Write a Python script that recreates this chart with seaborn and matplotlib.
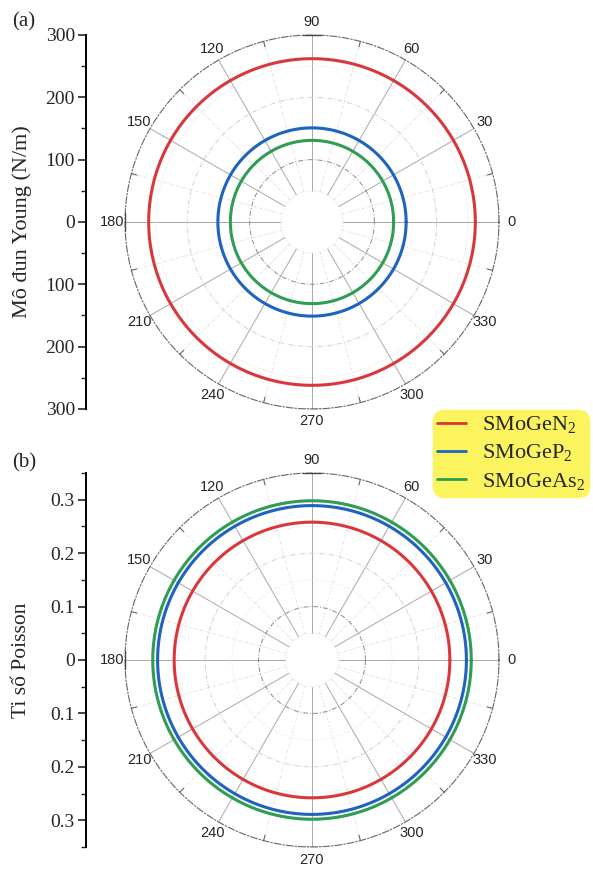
import numpy as np
import pandas as pd
import matplotlib
matplotlib.use("Agg")
import matplotlib.pyplot as plt
import seaborn as sns

# ---- data ----
materials = ["SMoGeN2", "SMoGeP2", "SMoGeAs2"]
legend_labels = [r"SMoGeN$_\mathregular{2}$", r"SMoGeP$_\mathregular{2}$", r"SMoGeAs$_\mathregular{2}$"]
young_modulus = [262, 151, 131]          # N/m, isotropic
poisson_ratio = [0.258, 0.289, 0.298]    # isotropic
angles_deg = np.arange(0, 361, 2)        # sampling of the polar direction
colors = ["#D8383C", "#1F63BF", "#2E9E55"]
angle_ticks = [0, 30, 60, 90, 120, 150, 180, 210, 240, 270, 300, 330]
young_ticks = [-300, -200, -100, 0, 100, 200, 300]
poisson_ticks = [-0.3, -0.2, -0.1, 0, 0.1, 0.2, 0.3]

sns.set_theme(style="white")
plt.rcParams["font.family"] = ["Liberation Serif", "DejaVu Serif"]
plt.rcParams["mathtext.fontset"] = "custom"
plt.rcParams["mathtext.rm"] = "Liberation Serif"

W, H = 593, 869
fig = plt.figure(figsize=(W / 100, H / 100), dpi=100)

def frac_box(left_px, top_px, w_px, h_px):
    return [left_px / W, 1 - (top_px + h_px) / H, w_px / W, h_px / H]

def build_df(values):
    rows = []
    for m, v in zip(materials, values):
        for a in angles_deg:
            rows.append({"material": m, "theta": np.deg2rad(a), "r": v})
    return pd.DataFrame(rows)

def polar_panel(cy, rmax, step, values, hole):
    R = 187
    cx = 312
    box = frac_box(cx - R, cy - R, 2 * R, 2 * R)
    ax = fig.add_axes(box, projection="polar")
    ax.set_facecolor("none")
    ax.grid(False)
    ax.set_ylim(0, rmax)
    full = np.linspace(0, 2 * np.pi, 400)
    # minor spokes
    for a in range(15, 360, 30):
        t = np.deg2rad(a)
        ax.plot([t, t], [hole, rmax], color="#dadada", lw=0.6, ls=(0, (3, 2, 1, 2)), zorder=1)
    # major spokes
    for a in range(0, 360, 30):
        t = np.deg2rad(a)
        ax.plot([t, t], [hole, rmax], color="#a8a8a8", lw=0.7, zorder=1)
    # circles
    ax.plot(full, np.full_like(full, hole), color="#dddddd", lw=0.6, ls=(0, (1, 1.5)), zorder=1)
    k = 1
    while step * k < rmax - 1e-9:
        r = step * k
        ax.plot(full, np.full_like(full, r), color="#8a8a8a" if k == 1 else "#d0d0d0",
                lw=0.7, ls=(0, (5, 2, 1, 2)), zorder=1)
        rm = r + step / 2
        if rm < rmax - 1e-9:
            ax.plot(full, np.full_like(full, rm), color="#e0e0e0", lw=0.6, ls=(0, (1, 1.5)), zorder=1)
        k += 1
    df = build_df(values)
    sns.lineplot(data=df, x="theta", y="r", hue="material", palette=colors,
                 estimator=None, sort=False, legend=False, lw=2.2, ax=ax, zorder=3)
    ax.set_xlabel("")
    ax.set_ylabel("")
    ax.set_yticks([])
    ax.set_xticks(np.deg2rad(angle_ticks))
    ax.set_xticklabels([str(a) for a in angle_ticks], fontfamily="Liberation Sans", fontsize=10.5)
    ax.tick_params(axis="x", length=0, pad=2)
    ax.spines["polar"].set_linestyle((0, (6, 2, 1, 2)))
    ax.spines["polar"].set_color("#666666")
    ax.spines["polar"].set_linewidth(0.8)
    # overlay for outer ticks and caps
    ov = fig.add_axes(box)
    ov.set_xlim(-1, 1)
    ov.set_ylim(-1, 1)
    ov.axis("off")
    ov.patch.set_alpha(0)
    for a in range(15, 360, 30):
        t = np.deg2rad(a)
        ov.plot([np.cos(t), 0.97 * np.cos(t)], [np.sin(t), 0.97 * np.sin(t)], color="#666666", lw=0.8)
    c = 9 / R
    ov.plot([1, 1], [-c, c], color="#444444", lw=1.0)
    ov.plot([-1, -1], [-c, c], color="#444444", lw=1.0)
    ov.plot([-c, c], [1, 1], color="#444444", lw=1.0)
    ov.plot([-c, c], [-1, -1], color="#444444", lw=1.0)
    return ax

def left_axis(cy, rmax, ticks, labels, minor_step, ylabel, ylabel_size, panel_label, label_y):
    R = 187
    box = frac_box(86, cy - R, 0.5, 2 * R)
    la = fig.add_axes(box)
    la.set_ylim(-rmax, rmax)
    la.set_xticks([])
    for s in ["top", "right", "bottom"]:
        la.spines[s].set_visible(False)
    la.spines["left"].set_linewidth(1.4)
    la.spines["left"].set_color("black")
    la.set_yticks(ticks)
    la.set_yticklabels(labels, fontsize=14)
    la.set_yticks(np.arange(-rmax, rmax + minor_step / 2, minor_step), minor=True)
    la.tick_params(axis="y", which="major", direction="out", length=6, width=1.2, pad=2, left=True)
    la.tick_params(axis="y", which="minor", direction="out", length=3.5, width=1.0, left=True)
    fig.text(22 / W, 1 - cy / H, ylabel, rotation=90, ha="center", va="center", fontsize=ylabel_size)
    fig.text(12 / W, 1 - label_y / H, panel_label, ha="left", va="center", fontsize=15)

polar_panel(222, 300, 100, young_modulus, 50)
left_axis(222, 300, young_ticks, [str(abs(v)) for v in young_ticks], 50,
          "Mô đun Young (N/m)", 16, "(a)", 22)

polar_panel(660, 0.35, 0.1, poisson_ratio, 0.05)
left_axis(660, 0.35, poisson_ticks,
          ["0" if v == 0 else f"{abs(v):.1f}" for v in poisson_ticks], 0.05,
          "Ti số Poisson", 15.5, "(b)", 463)

handles = [plt.Line2D([], [], color=c, lw=2.0) for c in colors]
leg = fig.legend(handles, legend_labels, loc="upper left",
                 bbox_to_anchor=(433 / W, 1 - 410 / H), frameon=True,
                 fontsize=16, handlelength=1.3, handletextpad=0.7,
                 labelspacing=0.3, borderpad=0.2, borderaxespad=0, fancybox=True)
frame = leg.get_frame()
frame.set_facecolor("#FBF45F")
frame.set_edgecolor("#FBF45F")
frame.set_alpha(1)
frame.set_boxstyle("round", pad=0, rounding_size=0.5)

fig.savefig("out.png", dpi=100)
